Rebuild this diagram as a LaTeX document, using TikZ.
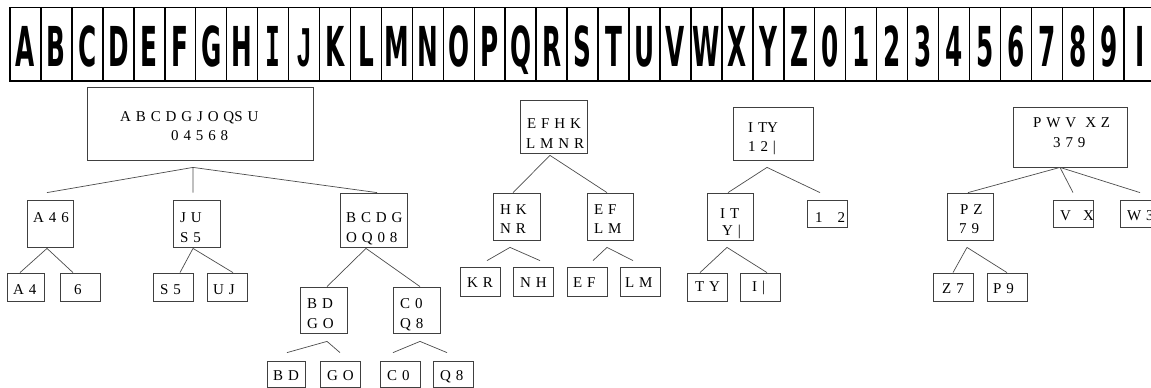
\documentclass[tikz,border=0pt]{standalone}
\usepackage{fontspec}
\usepackage{graphicx}
\setmainfont{Liberation Serif}[WordSpace=1.3]
\newfontfamily\platefont{DejaVu Sans}
\newfontfamily\platemono{DejaVu Sans Mono}
\newfontfamily\platealt{Liberation Sans}
\usetikzlibrary{calc}
\newcommand\serifI{{\platemono\bfseries I}}
\newcommand\flatJ{{\platealt\bfseries J}}
\tikzset{
  cell/.style={draw=black, line width=1.5pt, minimum width=30.95pt, minimum height=73.5pt,
    inner sep=0pt, text height=44pt, text depth=0pt,
    font=\platefont\bfseries\fontsize{55}{55}\selectfont},
  bx/.style 2 args={draw=black!75, line width=0.8pt, inner sep=0pt,
    minimum width=#1pt, minimum height=#2pt},
  tx/.style={anchor=base west, inner sep=0pt, font=\fontsize{15}{18}\selectfont, text=black},
  cn/.style={draw=black!70, line width=0.7pt}
}
\begin{document}
\begin{tikzpicture}[x=1pt,y=-1pt]
\useasboundingbox (0,0) rectangle (1151,388);
\fill[white] (0,0) rectangle (1151,388);
% character strip
\foreach \ch [count=\i from 0] in {A,B,C,D,E,F,G,H,\serifI,\flatJ,K,L,M,N,O,P,Q,R,S,T,U,V,W,X,Y,Z,0,1,2,3,4,5,6,7,8,9,I}
  \node[cell] (k\i) at ({25.475+30.95*\i},44.25) {\scalebox{0.45}[1]{\ch}};

% ---------- tree 1 ----------
\node[bx={226}{73}] (r1) at (200,123.5) {};
\node[tx] (r1a) at (120,121) {A B C D G J O QS U};
\node[tx] (r1b) at (171,140) {0 4 5 6 8};
\node[bx={46}{47}] (c1) at (50,223.5) {};
\node[tx] (c1a) at (33,222) {A 4 6};
\node[bx={47}{47}] (c2) at (196.5,223.5) {};
\node[tx] (c2a) at (180,222) {J U};
\node[tx] (c2b) at (180,242) {S 5};
\node[bx={67}{54}] (c3) at (373.5,220) {};
\node[tx] (c3a) at (346,222) {B C D G};
\node[tx] (c3b) at (346,242) {O Q 0 8};
\node[bx={37}{28}] (l1) at (25.5,287) {};
\node[tx] (l1a) at (13,294) {A 4};
\node[bx={40}{28}] (l2) at (80,287) {};
\node[tx] (l2a) at (74,294) {6};
\node[bx={40}{28}] (l3) at (173,287) {};
\node[tx] (l3a) at (160,294) {S 5};
\node[bx={40}{28}] (l4) at (227,287) {};
\node[tx] (l4a) at (213,294) {U J};
\node[bx={47}{46}] (c4) at (323.5,310) {};
\node[tx] (c4a) at (307,308) {B D};
\node[tx] (c4b) at (307,328) {G O};
\node[bx={47}{46}] (c5) at (416.5,310) {};
\node[tx] (c5a) at (400,308) {C 0};
\node[tx] (c5b) at (400,328) {Q 8};
\node[bx={38}{26}] (l5) at (286,374) {};
\node[tx] (l5a) at (273,380) {B D};
\node[bx={40}{26}] (l6) at (340,374) {};
\node[tx] (l6a) at (327,380) {G O};
\node[bx={40}{26}] (l7) at (400,374) {};
\node[tx] (l7a) at (387,380) {C 0};
\node[bx={40}{26}] (l8) at (453,374) {};
\node[tx] (l8a) at (440,380) {Q 8};

\draw[cn] ($(r1.south)+(-7,7)$) -- ($(c1.north)+(-3,-7)$)
          ($(r1.south)+(-7,7)$) -- ($(c2.north)+(-3.5,-7)$)
          ($(r1.south)+(-7,7)$) -- ($(c3.north)+(3.5,0)$);
\draw[cn] ($(c1.south)+(-3,1)$) -- ($(l1.north)+(-5.5,0)$)
          ($(c1.south)+(-3,1)$) -- ($(l2.north)+(-7,0)$);
\draw[cn] ($(c2.south)+(-3.5,1)$) -- ($(l3.north)+(7,0)$)
          ($(c2.south)+(-3.5,1)$) -- ($(l4.north)+(6,0)$);
\draw[cn] ($(c3.south)+(-7.5,1)$) -- ($(c4.north)+(3.5,0)$)
          ($(c3.south)+(-7.5,1)$) -- ($(c5.north)+(3.5,0)$);
\draw[cn] ($(c4.south)+(3.5,8)$) -- ($(l5.north)+(1,-8)$)
          ($(c4.south)+(3.5,8)$) -- ($(l6.north)+(0,-8)$);
\draw[cn] ($(c5.south)+(3.5,8)$) -- ($(l7.north)+(-7,-8)$)
          ($(c5.south)+(3.5,8)$) -- ($(l8.north)+(-6,-8)$);

% ---------- tree 2 ----------
\node[bx={67}{53}] (r2) at (553.5,126.5) {};
\node[tx] (r2a) at (527,128) {E F H K};
\node[tx] (r2b) at (526,148) {L M N R};
\node[bx={47}{47}] (c6) at (516.5,216.5) {};
\node[tx] (c6a) at (500,214) {H K};
\node[tx] (c6b) at (500,233) {N R};
\node[bx={46}{47}] (c7) at (610,216.5) {};
\node[tx] (c7a) at (594,214) {E F};
\node[tx] (c7b) at (594,233) {L M};
\node[bx={40}{29}] (l9) at (480,281.5) {};
\node[tx] (l9a) at (467,287) {K R};
\node[bx={40}{29}] (l10) at (533,281.5) {};
\node[tx] (l10a) at (520,287) {N H};
\node[bx={40}{29}] (l11) at (587,281.5) {};
\node[tx] (l11a) at (573,287) {E F};
\node[bx={40}{29}] (l12) at (640,281.5) {};
\node[tx] (l12a) at (625,287) {L M};

\draw[cn] ($(r2.south)+(-3.5,2)$) -- ($(c6.north)+(-3.5,0)$)
          ($(r2.south)+(-3.5,2)$) -- ($(c7.north)+(-3,0)$);
\draw[cn] ($(c6.south)+(-6.5,7)$) -- ($(l9.north)+(7,-6)$)
          ($(c6.south)+(-6.5,7)$) -- ($(l10.north)+(7,-6)$);
\draw[cn] ($(c7.south)+(-3,7)$) -- ($(l11.north)+(6,-6)$)
          ($(c7.south)+(-3,7)$) -- ($(l12.north)+(-7,-6)$);

% ---------- tree 3 ----------
\node[bx={80}{53}] (r3) at (773,133.5) {};
\node[tx] (r3a) at (748,132) {I TY};
\node[tx] (r3b) at (748,151) {1 2 |};
\node[bx={46}{47}] (c8) at (730,216.5) {};
\node[tx] (c8a) at (720,218) {I T};
\node[tx] (c8b) at (722,235) {Y |};
\node[bx={40}{27}] (c9) at (827,213.5) {};
\node[tx] (c9a) at (815,222) {1\hspace{15pt}2};
\node[bx={40}{28}] (l13) at (707,287) {};
\node[tx] (l13a) at (695,291) {T Y};
\node[bx={40}{28}] (l14) at (760,287) {};
\node[tx] (l14a) at (752,291) {I |};

\draw[cn] ($(r3.south)+(-6,7)$) -- ($(c8.north)+(-2,0)$)
          ($(r3.south)+(-6,7)$) -- ($(c9.north)+(-7,-7)$);
\draw[cn] ($(c8.south)+(-3,7)$) -- ($(l13.north)+(-7,0)$)
          ($(c8.south)+(-3,7)$) -- ($(l14.north)+(7,0)$);

% ---------- tree 4 ----------
\node[bx={114}{60}] (r4) at (1070,137) {};
\node[tx] (r4a) at (1033,127) {P W V\hspace{9pt}X Z};
\node[tx] (r4b) at (1053,147) {3 7 9};
\node[bx={46}{47}] (c10) at (970,216.5) {};
\node[tx] (c10a) at (960,214) {P Z};
\node[tx] (c10b) at (959,233) {7 9};
\node[bx={40}{27}] (c11) at (1073,213.5) {};
\node[tx] (c11a) at (1060,220) {V\hspace{12pt}X};
\node[bx={40}{27}] (c12) at (1140,213.5) {};
\node[tx] (c12a) at (1127,220) {W 3};
\node[bx={40}{28}] (l15) at (953,287) {};
\node[tx] (l15a) at (942,293) {Z 7};
\node[bx={40}{28}] (l16) at (1007,287) {};
\node[tx] (l16a) at (993,293) {P 9};

\draw[cn] ($(r4.south)+(-10,0)$) -- ($(c10.north)+(-2,0)$)
          ($(r4.south)+(-10,0)$) -- ($(c11.north)+(0,-7)$)
          ($(r4.south)+(-10,0)$) -- ($(c12.north)+(0,-7)$);
\draw[cn] ($(c10.south)+(-3,7)$) -- (l15.north)
          ($(c10.south)+(-3,7)$) -- (l16.north);
\end{tikzpicture}
\end{document}
